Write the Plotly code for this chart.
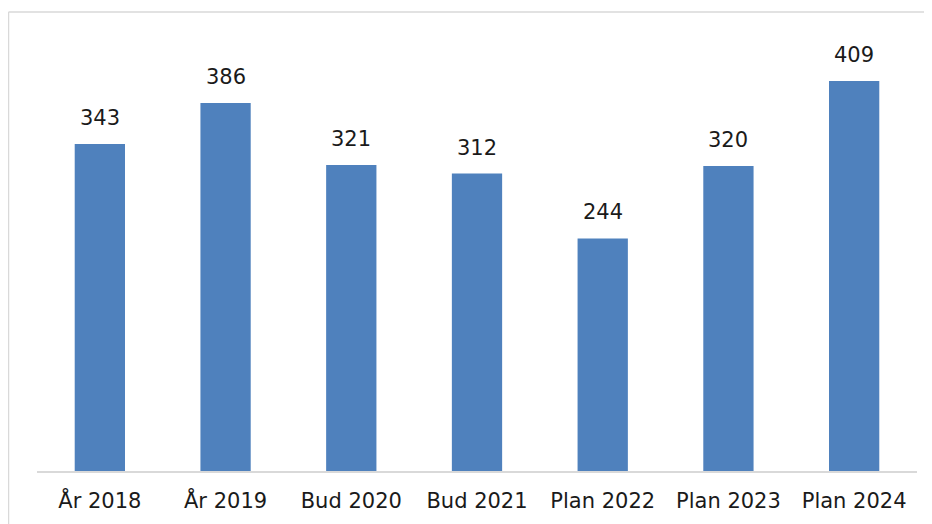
import plotly.graph_objects as go

categories = ["År 2018", "År 2019", "Bud 2020", "Bud 2021", "Plan 2022", "Plan 2023", "Plan 2024"]
values = [343, 386, 321, 312, 244, 320, 409]

BAR_COLOR = "#4F81BD"
FONT = "DejaVu Sans"

fig = go.Figure(go.Bar(x=categories, y=values, marker_color=BAR_COLOR,
                       marker_line_width=0, hoverinfo="skip"))

for c, v in zip(categories, values):
    fig.add_annotation(x=c, y=v, text=str(v), showarrow=False, yanchor="bottom",
                       yshift=12, font=dict(family=FONT, size=21, color="#1a1a1a"))

W, H = 924, 516
L, R, T, B = 29, 15, 34, 53
PW, PH = W - L - R, H - T - B

fig.update_layout(
    width=W, height=H,
    margin=dict(l=L, r=R, t=T, b=B),
    paper_bgcolor="white", plot_bgcolor="white",
    bargap=0.6, showlegend=False,
    font=dict(family=FONT, size=21, color="#1a1a1a"),
    xaxis=dict(showline=True, linecolor="#D9D9D9", linewidth=2, ticks="",
               showgrid=False, ticklabelstandoff=10, tickfont=dict(size=21)),
    yaxis=dict(range=[0, 450], visible=False, showgrid=False),
    shapes=[
        dict(type="line", xref="paper", yref="paper", x0=-28.5 / PW, x1=1 + R / PW,
             y0=1 + 30 / PH, y1=1 + 30 / PH, line=dict(color="#D9D9D9", width=1.5)),
        dict(type="line", xref="paper", yref="paper", x0=-28.5 / PW, x1=-28.5 / PW,
             y0=1 + 30 / PH, y1=-B / PH, line=dict(color="#D9D9D9", width=1.5)),
    ],
)

fig.write_html("out.html")
